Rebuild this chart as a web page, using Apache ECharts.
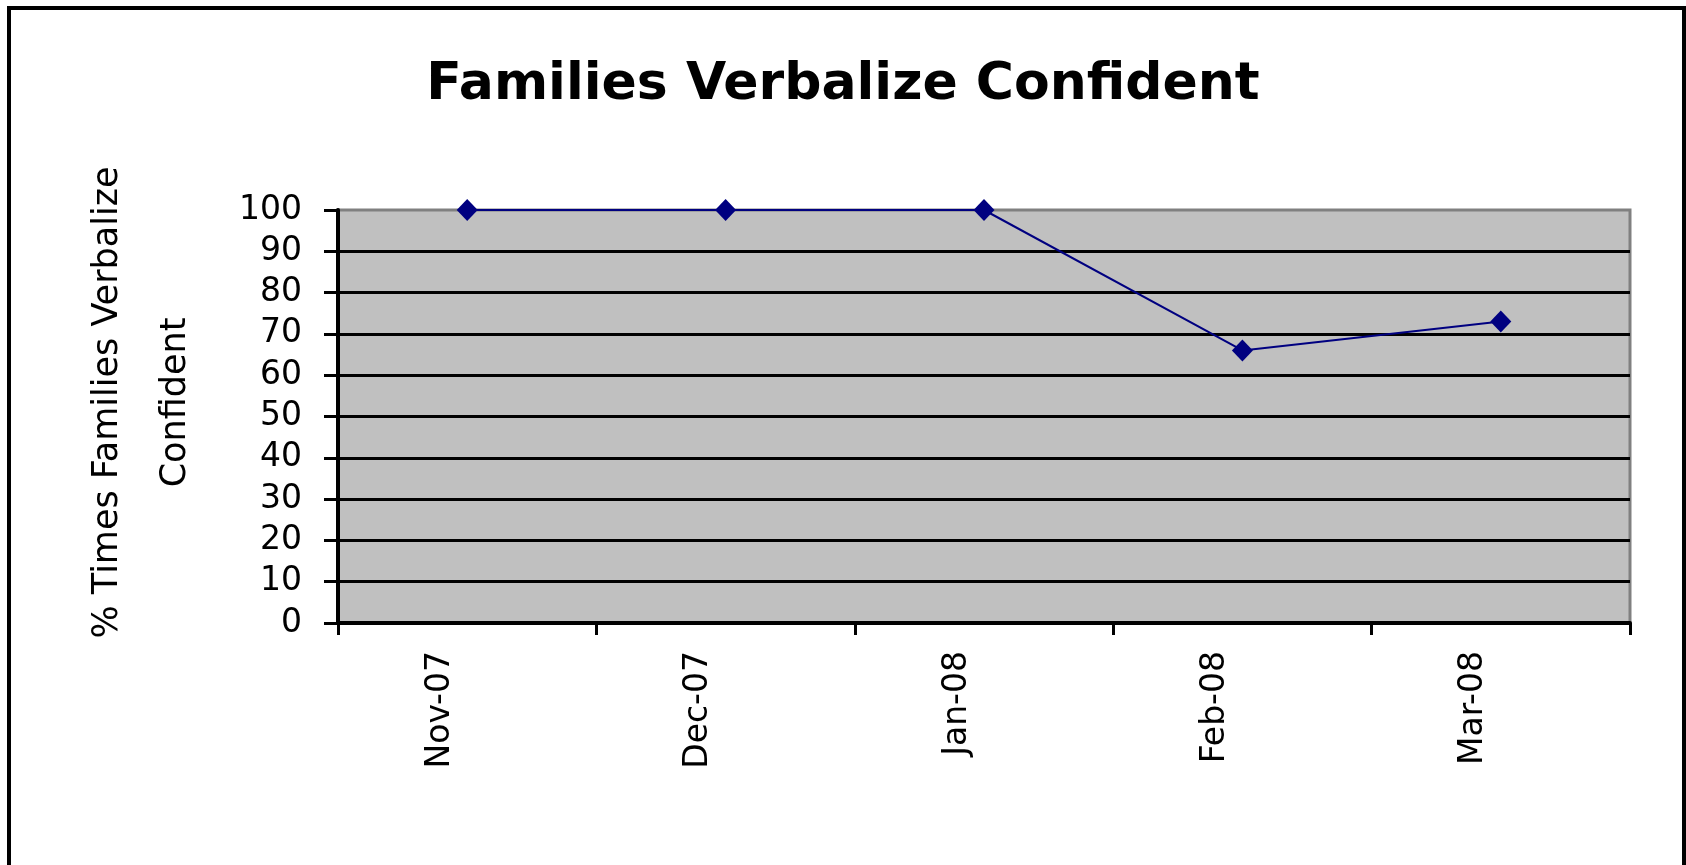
<!DOCTYPE html>
<html>
<head>
<meta charset="utf-8">
<script src="https://cdn.jsdelivr.net/npm/echarts@6/dist/echarts.min.js"></script>
<style>
  html, body { margin: 0; padding: 0; background: #fff; }
  #chart { width: 1686px; height: 865px; }
</style>
</head>
<body>
<div id="chart"></div>
<script>
// Chart data
const months = ['Nov-07', 'Dec-07', 'Jan-08', 'Feb-08', 'Mar-08']
const confidentPct = [100, 100, 100, 66, 73]

const FONT = "'DejaVu Sans', sans-serif"

const chart = echarts.init(document.getElementById('chart'))

chart.setOption({
    animation: false,
    backgroundColor: '#ffffff',
    textStyle: { fontFamily: FONT, color: '#000' },
    title: {
        text: 'Families Verbalize Confident',
        left: 'center',
        top: 54,
        textStyle: { fontFamily: FONT, fontSize: 52, fontWeight: 'bold', color: '#000' }
    },
    graphic: [{
        // outer frame of the chart area
        type: 'rect',
        silent: true,
        shape: { x: 9, y: 8, width: 1675, height: 900 },
        style: { fill: 'none', stroke: '#000', lineWidth: 4 }
    }],
    grid: {
        left: 338,
        top: 210,
        right: 56,
        bottom: 242,
        show: true,
        backgroundColor: '#C0C0C0',
        borderColor: '#808080',
        borderWidth: 3
    },
    xAxis: {
        type: 'category',
        data: months,
        boundaryGap: true,
        axisLine: { lineStyle: { color: '#000', width: 4 } },
        axisTick: { show: true, length: 12, lineStyle: { color: '#000', width: 3 } },
        axisLabel: {
            rotate: 90,
            margin: 28,
            fontSize: 33,
            color: '#000',
            fontFamily: FONT,
            verticalAlign: 'bottom',
            lineHeight: 54
        }
    },
    yAxis: {
        type: 'value',
        min: 0,
        max: 100,
        interval: 10,
        name: '% Times Families Verbalize\nConfident',
        nameLocation: 'middle',
        nameRotate: 90,
        nameGap: 128,
        nameTextStyle: {
            fontFamily: FONT,
            fontSize: 35,
            lineHeight: 68,
            color: '#000',
            align: 'center',
            padding: [0, 0, 0, 28]
        },
        axisLine: { show: true, lineStyle: { color: '#000', width: 4 } },
        axisTick: { show: true, length: 14, lineStyle: { color: '#000', width: 3 } },
        axisLabel: { margin: 36, fontSize: 33, color: '#000', fontFamily: FONT },
        splitLine: {
            show: true,
            showMaxLine: false,
            lineStyle: { color: '#000', width: 3 }
        }
    },
    series: [{
        type: 'line',
        data: confidentPct,
        symbol: 'diamond',
        symbolSize: [21, 22],
        lineStyle: { color: '#000080', width: 2 },
        itemStyle: { color: '#000080' }
    }]
})
</script>
</body>
</html>
